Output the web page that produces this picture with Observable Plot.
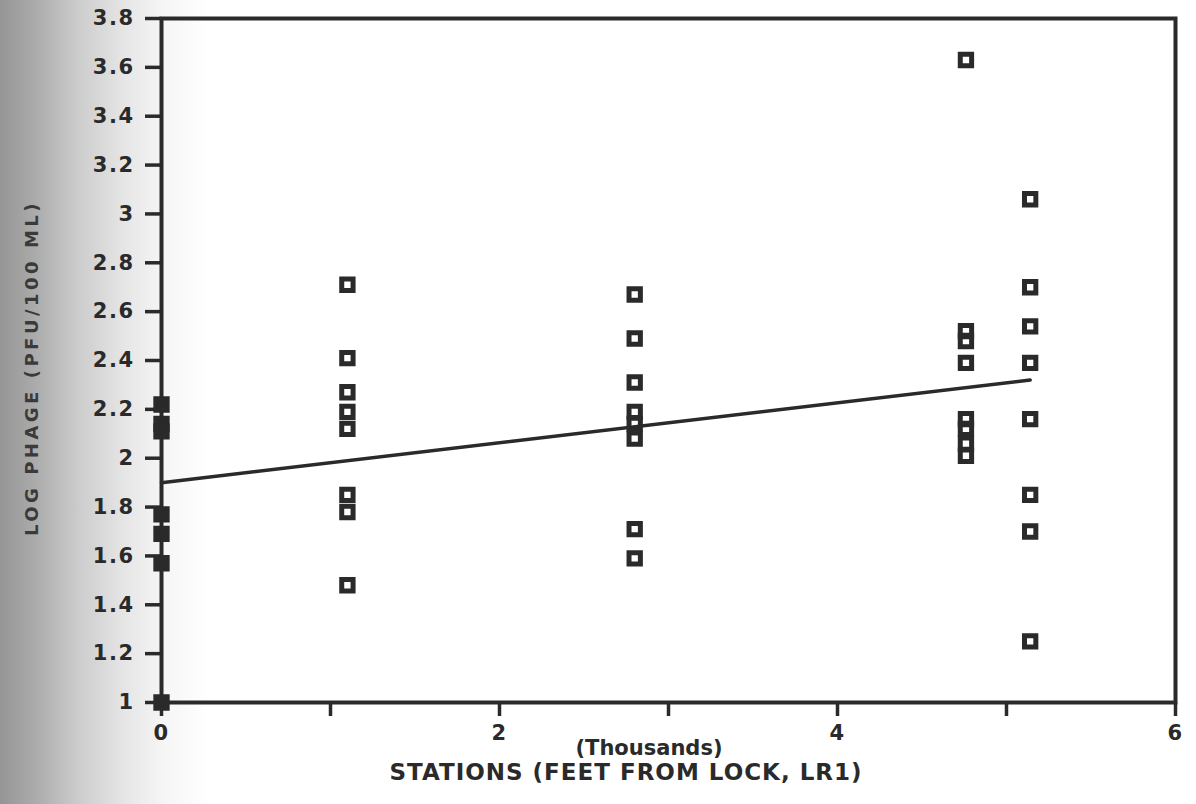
<!DOCTYPE html>
<html>
<head>
<meta charset="utf-8">
<script src="https://cdn.jsdelivr.net/npm/d3@7"></script>
<script src="https://cdn.jsdelivr.net/npm/@observablehq/plot@0.6"></script>
<style>
  html, body { margin: 0; padding: 0; }
  body {
    width: 1196px; height: 804px; overflow: hidden;
    background: linear-gradient(to right, #959595 0px, #ababab 35px, #cdcdcd 80px, #e6e6e6 125px, #f6f6f6 165px, #ffffff 210px);
  }
</style>
</head>
<body>
<div id="chart"></div>
<script>
// Station positions (thousands of feet from lock)
const stationX = [0, 1.1, 2.8, 4.76, 5.14];
// Log phage values at each station
const station0 = [2.22, 2.14, 2.11, 1.77, 1.69, 1.57, 1.0];
const station1 = [2.71, 2.41, 2.27, 2.19, 2.12, 1.85, 1.78, 1.48];
const station2 = [2.67, 2.49, 2.31, 2.19, 2.14, 2.08, 1.71, 1.59];
const station3 = [3.63, 2.52, 2.48, 2.39, 2.16, 2.12, 2.06, 2.01];
const station4 = [3.06, 2.70, 2.54, 2.39, 2.16, 1.85, 1.70, 1.25];
// Fitted line end points
const fitX = [0, 5.14];
const fitY = [1.90, 2.32];
// Ticks
const yTicks = [1, 1.2, 1.4, 1.6, 1.8, 2, 2.2, 2.4, 2.6, 2.8, 3, 3.2, 3.4, 3.6, 3.8];
const yTickLabels = ["1", "1.2", "1.4", "1.6", "1.8", "2", "2.2", "2.4", "2.6", "2.8", "3", "3.2", "3.4", "3.6", "3.8"];
const xTicks = [0, 1, 2, 3, 4, 5, 6];
const xTickLabels = ["0", "", "2", "", "4", "", "6"];
const yTitle = "LOG PHAGE (PFU/100 ML)";
const xUnits = "(Thousands)";
const xTitle = "STATIONS (FEET FROM LOCK, LR1)";

const groups = [station0, station1, station2, station3, station4];
const points = [];
groups.forEach((g, i) => g.forEach(v => points.push({x: stationX[i], y: v})));
const fit = fitX.map((x, i) => ({x, y: fitY[i]}));

const ink = "#2a2a2a";
const font = "DejaVu Sans";

const plot = Plot.plot({
  width: 1196,
  height: 804,
  marginLeft: 161,
  marginRight: 21,
  marginTop: 18,
  marginBottom: 102,
  style: {background: "transparent", fontFamily: font, color: ink},
  x: {domain: [0, 6]},
  y: {domain: [1, 3.8]},
  marks: [
    Plot.frame({stroke: ink, strokeWidth: 4}),
    Plot.axisY(yTicks, {
      tickSize: 16, tickPadding: 11, strokeWidth: 3.5, stroke: ink,
      tickFormat: d => yTickLabels[yTicks.indexOf(d)],
      fontSize: 21, fontWeight: "bold", fill: ink, label: null,
      fontFamily: font
    }),
    Plot.axisX(xTicks, {
      tickSize: 14, tickPadding: 9, strokeWidth: 3.5, stroke: ink,
      tickFormat: d => xTickLabels[xTicks.indexOf(d)],
      fontSize: 21, fontWeight: "bold", fill: ink, label: null,
      fontFamily: font
    }),
    Plot.line(fit, {x: "x", y: "y", stroke: ink, strokeWidth: 3.5}),
    Plot.dot(points, {
      x: "x", y: "y", symbol: "square", r: 6.4, stroke: ink, strokeWidth: 5,
      fill: d => d.x === 0 ? ink : "none"
    })
  ]
});

const svg = d3.select(plot);
svg.append("text")
  .attr("transform", "translate(33,368) rotate(-90)")
  .attr("text-anchor", "middle").attr("dominant-baseline", "middle")
  .attr("font-family", font).attr("font-size", 18).attr("font-weight", "bold")
  .attr("letter-spacing", 3.5).attr("fill", "#3a3a3a")
  .text(yTitle);
svg.append("text")
  .attr("x", 649).attr("y", 749)
  .attr("text-anchor", "middle").attr("dominant-baseline", "middle")
  .attr("font-family", font).attr("font-size", 21).attr("font-weight", "bold")
  .attr("fill", ink)
  .text(xUnits);
svg.append("text")
  .attr("x", 626).attr("y", 773)
  .attr("text-anchor", "middle").attr("dominant-baseline", "middle")
  .attr("font-family", font).attr("font-size", 23).attr("font-weight", "bold")
  .attr("letter-spacing", 1).attr("fill", ink)
  .text(xTitle);

plot.querySelectorAll("g[aria-label='y-axis tick label'] text, g[aria-label='x-axis tick label'] text").forEach(t => t.setAttribute("letter-spacing", "1.5"));
document.getElementById("chart").appendChild(plot);
</script>
</body>
</html>
